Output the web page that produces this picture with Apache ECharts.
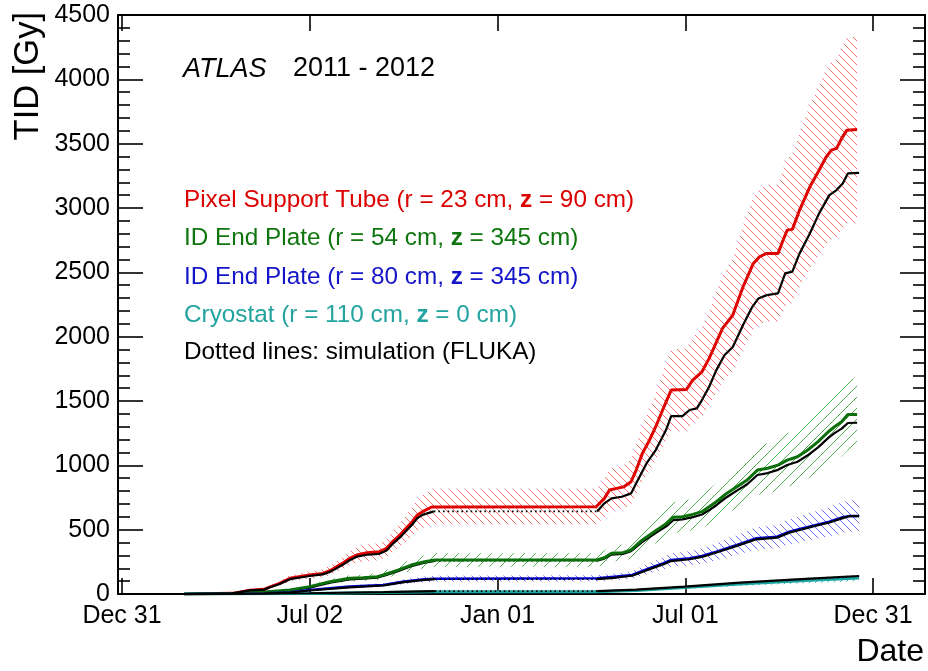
<!DOCTYPE html>
<html><head><meta charset="utf-8">
<script src="https://cdn.jsdelivr.net/npm/echarts@6/dist/echarts.min.js"></script>
<style>html,body{margin:0;padding:0;background:#fff}#c{width:928px;height:671px}</style>
</head><body><div id="c"></div>
<script>
// ---------- axes ----------
const xTickLabels = ['Dec 31', 'Jul 02', 'Jan 01', 'Jul 01', 'Dec 31'];
const xTickTimes = ['2010-12-31 12:00', '2011-07-02 06:00', '2012-01-01 00:00', '2012-07-01 18:00', '2012-12-31 12:00'];
const xRange = ['2010-12-27 15:00', '2013-02-20 02:00'];
const yRange = [0, 4500];
const yStep = 500;
const bandFraction = 0.2; // half-width of hatched uncertainty bands (+/-20 %)

// ---------- measured (solid coloured lines) ----------
const pstMeas = [['2011-03-02',0],['2011-04-18',5],['2011-05-05',30],['2011-05-19',36],['2011-05-24',54],['2011-06-03',83],['2011-06-13',122],['2011-07-02',148],['2011-07-15',160],['2011-07-23',186],['2011-08-03',238],['2011-08-10',277],['2011-08-17',303],['2011-08-27',321],['2011-09-08',329],['2011-09-15',355],['2011-09-21',407],['2011-09-28',458],['2011-10-04',510],['2011-10-10',562],['2011-10-15',614],['2011-10-20',640],['2011-10-29',676],
  ['2012-04-06',678],['2012-04-14',743],['2012-04-19',808],['2012-04-26',821],['2012-05-03',834],['2012-05-10',873],['2012-05-15',963],['2012-05-21',1093],['2012-05-28',1197],['2012-06-03',1300],['2012-06-11',1455],['2012-06-18',1585],['2012-07-03',1590],['2012-07-09',1663],['2012-07-18',1727],['2012-07-25',1831],['2012-07-30',1920],['2012-08-07',2064],['2012-08-17',2168],['2012-08-27',2388],['2012-09-06',2569],['2012-09-12',2621],['2012-09-19',2647],['2012-09-30',2647],['2012-10-05',2751],['2012-10-09',2828],['2012-10-14',2834],['2012-10-21',2984],['2012-10-31',3165],['2012-11-09',3294],['2012-11-16',3398],['2012-11-21',3450],['2012-11-26',3463],['2012-12-01',3541],['2012-12-06',3605],['2012-12-16',3610]];
const idp54Meas = [['2011-03-02',0],['2011-04-18',3],['2011-05-19',15],['2011-06-13',31],['2011-07-02',57],['2011-07-22',96],['2011-08-10',122],['2011-08-23',127],['2011-09-06',135],['2011-09-12',148],['2011-09-26',186],['2011-10-09',225],['2011-10-22',251],['2011-11-01',264],
  ['2012-04-07',264],['2012-04-14',282],['2012-04-21',316],['2012-05-02',321],['2012-05-10',342],['2012-05-21',420],['2012-06-04',497],['2012-06-14',549],['2012-06-20',596],['2012-06-29',601],['2012-07-09',619],['2012-07-18',640],['2012-07-25',678],['2012-08-01',717],['2012-08-11',782],['2012-08-21',834],['2012-08-31',886],['2012-09-10',963],['2012-09-20',977],['2012-09-30',1002],['2012-10-09',1041],['2012-10-19',1067],['2012-10-29',1119],['2012-11-08',1184],['2012-11-18',1261],['2012-11-24',1300],['2012-12-01',1339],['2012-12-07',1396],['2012-12-16',1396]];
const idp80Meas = [['2011-03-02',0],['2011-05-19',5],['2011-06-13',12],['2011-07-02',31],['2011-08-10',57],['2011-09-12',70],['2011-10-02',96],['2011-10-22',114],['2011-11-01',119],
  ['2012-04-07',122],['2012-04-26',135],['2012-05-11',148],['2012-05-28',200],['2012-06-10',238],['2012-06-18',264],['2012-07-06',277],['2012-07-18',295],['2012-08-01',329],['2012-08-21',381],['2012-09-09',433],['2012-09-29',445],['2012-10-11',484],['2012-10-24',510],['2012-11-06',536],['2012-11-19',562],['2012-12-02',596],['2012-12-09',606],['2012-12-18',606]];
const cryoMeas = [['2011-03-02',0],['2011-07-02',4],['2011-09-12',11],['2011-11-01',18],
  ['2012-04-07',18],['2012-05-15',28],['2012-07-01',50],['2012-08-24',78],['2012-10-27',105],['2012-12-18',124]];

// ---------- simulation (black lines; dotted across the shutdown) ----------
const pstSim2011 = [['2011-03-02',0],['2011-04-18',5],['2011-05-05',28],['2011-05-19',34],['2011-05-24',50],['2011-06-03',78],['2011-06-13',115],['2011-07-02',140],['2011-07-15',152],['2011-07-23',176],['2011-08-03',225],['2011-08-10',262],['2011-08-17',290],['2011-08-27',305],['2011-09-08',312],['2011-09-15',338],['2011-09-21',390],['2011-09-28',440],['2011-10-04',490],['2011-10-10',540],['2011-10-15',590],['2011-10-20',615],['2011-10-31',642]];
const pstSim2012 = [['2012-04-07',642],['2012-04-14',705],['2012-04-21',743],['2012-05-01',756],['2012-05-10',782],['2012-05-15',860],['2012-05-25',1015],['2012-06-03',1119],['2012-06-13',1274],['2012-06-18',1383],['2012-06-29',1383],['2012-07-06',1430],['2012-07-13',1443],['2012-07-18',1507],['2012-07-25',1611],['2012-08-01',1740],['2012-08-09',1857],['2012-08-17',1920],['2012-08-27',2090],['2012-09-05',2232],['2012-09-11',2297],['2012-09-19',2323],['2012-09-30',2336],['2012-10-07',2492],['2012-10-14',2505],['2012-10-21',2647],['2012-10-31',2802],['2012-11-09',2958],['2012-11-19',3100],['2012-11-26',3139],['2012-12-02',3191],['2012-12-07',3269],['2012-12-18',3273]];
const idp54Sim2011 = [['2011-03-02',0],['2011-04-18',3],['2011-05-19',13],['2011-06-13',27],['2011-07-02',50],['2011-07-22',88],['2011-08-10',113],['2011-08-23',120],['2011-09-06',128],['2011-09-12',140],['2011-09-26',178],['2011-10-09',216],['2011-10-22',243],['2011-11-01',258]];
const idp54Sim2012 = [['2012-04-07',258],['2012-04-14',275],['2012-04-21',306],['2012-05-02',312],['2012-05-10',333],['2012-05-21',405],['2012-06-04',480],['2012-06-14',530],['2012-06-20',574],['2012-06-29',580],['2012-07-09',597],['2012-07-18',618],['2012-07-25',652],['2012-08-01',690],['2012-08-11',752],['2012-08-21',803],['2012-08-31',853],['2012-09-10',925],['2012-09-20',940],['2012-09-30',965],['2012-10-09',1002],['2012-10-19',1028],['2012-10-29',1078],['2012-11-08',1140],['2012-11-18',1213],['2012-11-24',1250],['2012-12-01',1285],['2012-12-07',1329],['2012-12-16',1331]];
const idp80Sim2011 = [['2011-03-02',0],['2011-05-19',4],['2011-06-13',10],['2011-07-02',27],['2011-08-10',52],['2011-09-12',66],['2011-10-02',92],['2011-10-22',110],['2011-11-01',115]];
const idp80Sim2012 = [['2012-04-07',115],['2012-04-26',128],['2012-05-11',142],['2012-05-28',192],['2012-06-10',230],['2012-06-18',256],['2012-07-06',270],['2012-07-18',288],['2012-08-01',322],['2012-08-21',374],['2012-09-09',425],['2012-09-29',438],['2012-10-11',477],['2012-10-24',503],['2012-11-06',530],['2012-11-19',556],['2012-12-02',590],['2012-12-09',606],['2012-12-18',606]];
const cryoSim2011 = [['2011-03-02',0],['2011-07-02',6],['2011-09-12',14],['2011-11-01',22]];
const cryoSim2012 = [['2012-04-07',22],['2012-05-15',34],['2012-07-01',58],['2012-08-24',88],['2012-10-27',118],['2012-12-18',140]];

// ---------- texts ----------
const legendRows = [
  ['#dd0000', 'Pixel Support Tube (r = 23 cm, ', 'z', ' = 90 cm)'],
  ['#0f750f', 'ID End Plate (r = 54 cm, ', 'z', ' = 345 cm)'],
  ['#1414c8', 'ID End Plate (r = 80 cm, ', 'z', ' = 345 cm)'],
  ['#22a3a0', 'Cryostat (r = 110 cm, ', 'z', ' = 0 cm)'],
  ['#000000', 'Dotted lines: simulation (FLUKA)', '', '']
];

const colors = {pst:'#e00000', idp54:'#0b6f0b', idp80:'#0000d0', cryo:'#1aa3a0'};
const hatchColors = {pst:'#f27272', idp54:'#4fae4f', idp80:'#6f6ff2', cryo:'#40b8b8'};

const FONT = 'Liberation Sans, Arial, Helvetica, sans-serif';
const P = s => echarts.time.parse(s).getTime();
const T = arr => arr.map(([d, v]) => [P(d), v]);
const tickVals = xTickTimes.map(P);
function labelFor(v) {
  let best = 0, bd = Infinity;
  tickVals.forEach((t, i) => { const d = Math.abs(t - v); if (d < bd) { bd = d; best = i; } });
  return bd < 86400000 ? xTickLabels[best] : '';
}

function hatch(color, size, dir, width) {
  const c = document.createElement('canvas');
  c.width = c.height = size;
  const g = c.getContext('2d');
  g.strokeStyle = color; g.lineWidth = width;
  g.beginPath();
  for (const o of [-size, 0, size]) {
    if (dir === '\\') { g.moveTo(o, 0); g.lineTo(o + size, size); }
    else { g.moveTo(o, size); g.lineTo(o + size, 0); }
  }
  g.stroke();
  return c;
}

function band(meas, name, pattern) {
  return [
    {type:'line', data: T(meas).map(([d, v]) => [d, v * (1 - bandFraction)]), stack: name, symbol:'none',
      lineStyle:{width:0, opacity:0}, silent:true, z:1},
    {type:'line', data: T(meas).map(([d, v]) => [d, v * 2 * bandFraction]), stack: name, symbol:'none',
      lineStyle:{width:0, opacity:0}, areaStyle:{color:{image: pattern, repeat:'repeat'}, opacity:1}, silent:true, z:1}
  ];
}
function line(data, color, width, z, dash) {
  return {type:'line', data: T(data), symbol:'none', silent:true, z: z || 2,
    lineStyle:{color, width, type: dash || 'solid'}, itemStyle:{color}};
}
function simSeries(s11, s12, z) {
  return [
    line(s11, '#000', 2.2, z),
    line(s12, '#000', 2.2, z),
    line([s11[s11.length - 1], s12[0]], '#000', 1.6, z, [1.6, 3])
  ];
}

const series = [].concat(
  band(pstMeas, 'b1', hatch(hatchColors.pst, 8, '\\', 1)),
  band(idp54Meas, 'b2', hatch(hatchColors.idp54, 11, '/', 1)),
  band(idp80Meas, 'b3', hatch(hatchColors.idp80, 8, '\\', 1)),
  band(cryoMeas, 'b4', hatch(hatchColors.cryo, 6, '/', 1)),
  [line(pstMeas, colors.pst, 3, 3), line(idp54Meas, colors.idp54, 3, 3), line(idp80Meas, colors.idp80, 2.6, 3), line(cryoMeas, colors.cryo, 3, 3)],
  simSeries(pstSim2011, pstSim2012, 4),
  simSeries(idp54Sim2011, idp54Sim2012, 2),
  simSeries(idp80Sim2011, idp80Sim2012, 4),
  simSeries(cryoSim2011, cryoSim2012, 4)
);

const axisLineStyle = {color:'#000', width:2};
const tickLineStyle = {color:'#000', width:1.6};
// the data axis (time), hidden; the two visible frame axes carry ticks and labels
const dataXAxis = {type:'time', position:'top', min:P(xRange[0]), max:P(xRange[1]), show:false,
  axisLine:{show:false}, axisTick:{show:false}, axisLabel:{show:false}, splitLine:{show:false}};
function xAx(pos) {
  return {type:'value', position:pos, min:P(xRange[0]), max:P(xRange[1]),
    axisLine:{show:true, onZero:false, lineStyle:axisLineStyle},
    axisTick:{show:true, inside:true, length:16, customValues:tickVals, lineStyle:tickLineStyle},
    axisLabel:{show: pos === 'bottom', customValues:tickVals, formatter: v => labelFor(v),
      color:'#000', fontSize:25, fontFamily:FONT, margin:10},
    splitLine:{show:false}, minorTick:{show:false}, axisPointer:{show:false}};
}
function yAx(pos) {
  return {type:'value', position:pos, min:yRange[0], max:yRange[1], interval:yStep,
    axisLine:{show:true, onZero:false, lineStyle:axisLineStyle},
    axisTick:{show:true, inside:true, length:25, lineStyle:tickLineStyle},
    minorTick:{show:true, splitNumber:5, length:12, lineStyle:tickLineStyle},
    axisLabel:{show: pos === 'left', color:'#000', fontSize:25, fontFamily:FONT, margin:8, formatter: v => String(v)},
    splitLine:{show:false}, minorSplitLine:{show:false}};
}

const graphics = [
  {type:'text', x:28, y:12, rotation:Math.PI / 2,
    style:{text:'TID [Gy]', fill:'#000', font:'34.5px ' + FONT, align:'right', verticalAlign:'middle'}},
  {type:'text', x:924, y:652,
    style:{text:'Date', fill:'#000', font:'32px ' + FONT, align:'right', verticalAlign:'middle'}},
  {type:'text', x:183, y:69,
    style:{text:'ATLAS', fill:'#000', font:'italic 27px ' + FONT, align:'left', verticalAlign:'middle'}},
  {type:'text', x:293, y:69,
    style:{text:'2011 - 2012', fill:'#000', font:'27px ' + FONT, align:'left', verticalAlign:'middle'}}
];
const rowY = [200, 238, 277, 315, 352];
legendRows.forEach((r, i) => {
  const [col, a, b, c] = r;
  graphics.push({type:'text', x:184, y:rowY[i],
    style:{text: b ? `{n|${a}}{b|${b}}{n|${c}}` : `{n|${a}}`, fill: col, verticalAlign:'middle', align:'left',
      rich:{n:{fill:col, fontSize:24.3, fontFamily:FONT}, b:{fill:col, fontSize:24.3, fontFamily:FONT, fontWeight:'bold'}}}});
});

const chart = echarts.init(document.getElementById('c'), null, {renderer:'canvas'});
chart.setOption({
  animation:false,
  backgroundColor:'#fff',
  grid:{left:118, right:3, top:15, bottom:77, outerBoundsMode:'none'},
  xAxis:[dataXAxis, xAx('bottom'), xAx('top')],
  yAxis:[yAx('left'), yAx('right')],
  series: series.map(s => Object.assign({xAxisIndex:0, yAxisIndex:0}, s)),
  graphic: graphics
});
</script></body></html>
